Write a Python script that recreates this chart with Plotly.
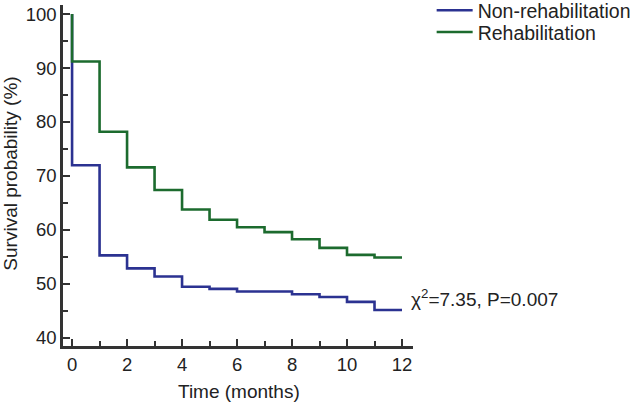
import plotly.graph_objects as go

months = [0, 0, 1, 2, 3, 4, 5, 6, 7, 8, 9, 10, 11, 12]
non_rehab = [100, 72.0, 55.3, 52.9, 51.4, 49.5, 49.1, 48.6, 48.6, 48.1, 47.6, 46.7, 45.2, 45.2]
rehab = [100, 91.2, 78.2, 71.6, 67.4, 63.8, 61.9, 60.5, 59.6, 58.3, 56.7, 55.4, 54.9, 54.9]

names = ["Non-rehabilitation", "Rehabilitation"]
colors = ["#2b3291", "#1c6b2e"]
stat_text = "χ<sup>2</sup>=7.35, P=0.007"
x_title = "Time (months)"
y_title = "Survival probability (%)"

x_ticks = [0, 2, 4, 6, 8, 10, 12]
y_ticks = [40, 50, 60, 70, 80, 90, 100]

font = "Liberation Sans, Arial, sans-serif"
txt = "#222"

W, H = 632, 405

fig = go.Figure()
legend_ids = ["legend", "legend2"]
for name, ys, c, lg in zip(names, [non_rehab, rehab], colors, legend_ids):
    fig.add_trace(go.Scatter(x=months, y=ys, mode="lines", name=name, legend=lg,
                             line=dict(color=c, width=2.6, shape="hv")))

fig.add_annotation(x=12, y=non_rehab[-1], xref="x", yref="y", text=stat_text,
                   showarrow=False, xanchor="left", xshift=7, yshift=12,
                   font=dict(size=19, color=txt, family=font))
fig.add_annotation(x=0.503, y=-0.132, xref="paper", yref="paper", text=x_title,
                   showarrow=False, xanchor="center", yanchor="middle",
                   font=dict(size=19, color=txt, family=font))
fig.add_annotation(x=-0.149, y=0.505, xref="paper", yref="paper", text=y_title,
                   showarrow=False, xanchor="center", yanchor="middle", textangle=-90,
                   font=dict(size=19, color=txt, family=font))

axis_common = dict(showline=True, linecolor="#333", linewidth=2.5, ticks="inside",
                   tickcolor="#333", tickwidth=2, ticklen=7, showgrid=False,
                   zeroline=False, tickfont=dict(size=18.5, color=txt, family=font),
                   mirror=False, automargin=False, ticklabeloverflow="allow")

fig.update_xaxes(range=[-0.33, 12.4], tickvals=x_ticks,
                 minor=dict(ticks="inside", dtick=1, tick0=0, ticklen=5, tickcolor="#333", tickwidth=2),
                 **axis_common)
fig.update_yaxes(range=[38.52, 101.67], tickvals=y_ticks,
                 minor=dict(ticks="inside", dtick=5, tick0=0, ticklen=5, tickcolor="#333", tickwidth=2),
                 **axis_common)

leg_common = dict(xref="container", yref="container", xanchor="left", yanchor="middle",
                  font=dict(size=19.5, color=txt, family=font),
                  bgcolor="rgba(0,0,0,0)", itemwidth=36)

fig.update_layout(
    width=W, height=H,
    margin=dict(l=63, r=219, t=5, b=59),
    plot_bgcolor="white", paper_bgcolor="white",
    font=dict(family=font, size=18, color=txt),
    showlegend=True,
    legend=dict(x=0.683, y=0.974, **leg_common),
    legend2=dict(x=0.683, y=0.920, **leg_common),
)

fig.write_html("out.html", config={"displayModeBar": False},
               post_script="document.body.style.margin='0';document.body.style.overflow='hidden';")
